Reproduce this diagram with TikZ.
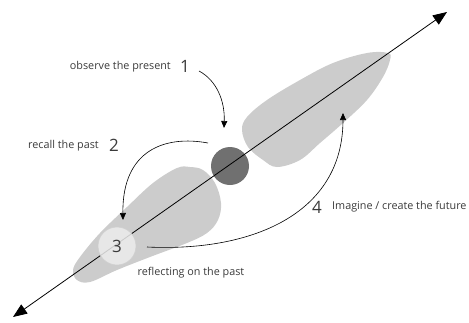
\documentclass[tikz,border=0pt]{standalone}
\usepackage{fontspec}
\setmainfont{Open Sans}
\usetikzlibrary{arrows.meta}
\definecolor{blobgray}{HTML}{CCCCCC}
\definecolor{darkdot}{HTML}{707070}
\definecolor{lightdot}{HTML}{ECECEC}
\definecolor{rimgray}{HTML}{CFCFCF}
\definecolor{txtgray}{HTML}{3A3A3A}
\tikzset{
  blob/.style={fill=blobgray, draw=none},
  axisline/.style={line width=0.8pt, {Triangle[length=14pt,width=11pt]}-{Triangle[length=14pt,width=11pt]}},
  curvearrow/.style={line width=0.6pt, -{Triangle[length=7pt,width=6pt]}},
  lbl/.style={font=\fontsize{10.8}{12}\selectfont, text=txtgray, inner sep=0pt},
  num/.style={font=\fontsize{17}{19}\selectfont, text=txtgray, inner sep=0pt},
}
\begin{document}
\begin{tikzpicture}[x=1pt,y=-1pt]
\useasboundingbox (0,0) rectangle (469,322);
% blobs
\fill[blob] plot[smooth cycle, tension=0.6] coordinates {
 (388,53) (367,53) (333,63) (300,80) (267,100) (247,117) (242,130) (248,147)
 (263,160) (277,167) (300,160) (320,143) (343,123) (367,100) (383,77) (390,60)};
\fill[blob] plot[smooth cycle, tension=0.6] coordinates {
 (190,167) (203,170) (215,183) (221,203) (218,220) (207,233) (187,243) (150,257)
 (117,270) (90,282) (77,280) (73,270) (80,257) (100,233) (127,207) (153,183) (177,168)};
% present dot
\node[circle, fill=darkdot, minimum size=38pt, inner sep=0pt] (now) at (230,166) {};
% axis
\coordinate (past) at (13,317);
\coordinate (future) at (447,12);
\draw[axisline] (past) -- (future);
% reflection dot
\node[circle, fill=lightdot, fill opacity=0.85, draw=rimgray, line width=0.6pt, minimum size=38pt, inner sep=0pt] (three) at (117,246) {};
\node[num] (n3) at (117,246) {3};
% labels
\node[lbl, anchor=east] (observe) at (171,67) {observe the present};
\node[num] (n1) at (185,66) {1};
\node[lbl, anchor=east] (recall) at (99,146) {recall the past};
\node[num] (n2) at (114,145) {2};
\node[num] (n4) at (317,207) {4};
\node[lbl, anchor=west] (imagine) at (332,207) {Imagine / create the future};
\node[lbl] (reflect) at (191,273) {reflecting on the past};
% curved arrows
\coordinate (a1s) at (199,71);
\coordinate (a1e) at (224,128);
\draw[curvearrow] (a1s) .. controls (216,80) and (225,100) .. (a1e);
\coordinate (a2s) at (208,143);
\coordinate (a2e) at (123,220);
\draw[curvearrow] (a2s) .. controls (165,135) and (122,150) .. (a2e);
\coordinate (a4s) at (147,247);
\coordinate (a4e) at (343,113);
\draw[curvearrow] (a4s) .. controls (250,252) and (343,215) .. (a4e);
\end{tikzpicture}
\end{document}
